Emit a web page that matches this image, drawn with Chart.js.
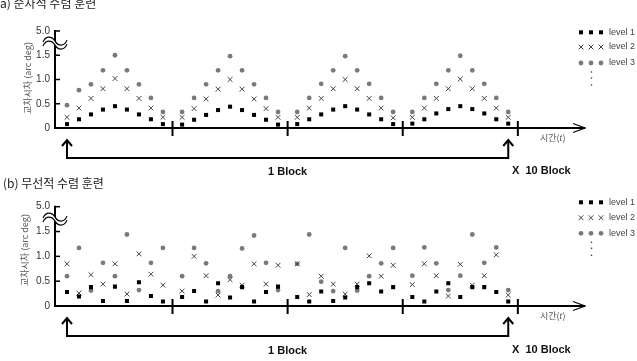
<!DOCTYPE html>
<html>
<head>
<meta charset="utf-8">
<script src="https://cdn.jsdelivr.net/npm/chart.js@4.4.1/dist/chart.umd.min.js"></script>
<style>
  html, body { margin: 0; padding: 0; background: #fff; }
  body { width: 637px; height: 361px; position: relative; overflow: hidden; }
  canvas { position: absolute; left: 0; }
  #chartA { top: 0; }
  #chartB { top: 170px; }
</style>
</head>
<body>
<canvas id="chartA" width="637" height="181"></canvas>
<canvas id="chartB" width="637" height="191"></canvas>
<script>
// y axis is broken: the top tick stands for 5.0
const yTickValues = [0, 0.5, 1.0, 1.5, 2.0];
const yTickLabels = ["0", "0.5", "1.0", "1.5", "5.0"];
const levelLabels = ["level 1", "level 2", "level 3"];
const trialsPerBlock = 9;

// (a) sequential training, 4 blocks of 9 trials
const seqLevel1 = [0.08, 0.18, 0.28, 0.38, 0.45, 0.38, 0.28, 0.18, 0.08,
                   0.07, 0.17, 0.27, 0.37, 0.44, 0.37, 0.27, 0.17, 0.07,
                   0.08, 0.18, 0.28, 0.38, 0.45, 0.38, 0.28, 0.18, 0.08,
                   0.09, 0.18, 0.30, 0.39, 0.45, 0.39, 0.30, 0.18, 0.09];
const seqLevel2 = [0.22, 0.41, 0.61, 0.81, 1.02, 0.81, 0.61, 0.41, 0.22,
                   0.22, 0.40, 0.60, 0.80, 1.00, 0.80, 0.60, 0.40, 0.22,
                   0.22, 0.41, 0.61, 0.81, 1.00, 0.81, 0.61, 0.41, 0.21,
                   0.22, 0.41, 0.61, 0.81, 1.01, 0.81, 0.61, 0.41, 0.22];
const seqLevel3 = [0.47, 0.78, 0.90, 1.19, 1.50, 1.19, 0.90, 0.62, 0.33,
                   0.33, 0.62, 0.90, 1.19, 1.48, 1.19, 0.90, 0.62, 0.33,
                   0.33, 0.62, 0.91, 1.19, 1.48, 1.19, 0.91, 0.62, 0.33,
                   0.33, 0.62, 0.91, 1.19, 1.49, 1.19, 0.91, 0.62, 0.33];

// (b) random training
const rndLevel1 = [0.28, 0.19, 0.38, 0.10, 0.39, 0.10, 0.48, 0.20, 0.09,
                   0.18, 0.30, 0.09, 0.46, 0.17, 0.38, 0.09, 0.28, 0.39,
                   0.18, 0.09, 0.29, 0.10, 0.17, 0.38, 0.46, 0.29, 0.38,
                   0.18, 0.09, 0.29, 0.46, 0.18, 0.38, 0.38, 0.28, 0.09];
const rndLevel2 = [0.85, 0.26, 0.63, 0.44, 0.85, 0.24, 1.05, 0.64, 0.42,
                   0.30, 1.00, 0.61, 0.22, 0.53, 0.42, 0.85, 0.44, 0.82,
                   0.85, 0.23, 0.60, 0.44, 0.24, 0.44, 1.01, 0.60, 0.82,
                   0.43, 0.85, 0.61, 0.20, 0.84, 0.42, 0.61, 1.03, 0.22];
const rndLevel3 = [0.60, 1.17, 0.31, 0.87, 0.60, 1.44, 0.32, 0.87, 1.17,
                   0.60, 1.17, 0.86, 0.30, 0.60, 1.16, 1.42, 0.87, 0.32,
                   0.85, 1.44, 0.49, 0.30, 1.17, 0.31, 0.60, 0.86, 1.17,
                   0.61, 1.18, 0.86, 0.32, 0.61, 1.44, 0.87, 1.18, 0.32];

// layout of the time axis (in trial units)
const BLOCK_STEP = 9.6;
const FIRST = 1;
const X_MAX = 44.2;

function trialX(k) {
  return FIRST + Math.floor(k / trialsPerBlock) * BLOCK_STEP + (k % trialsPerBlock);
}
function toPoints(values) {
  return values.map((v, k) => ({ x: trialX(k), y: v }));
}

const COL_SQ = '#000000', COL_X = '#444444', COL_CIR = '#7a7a7a';

function marker(ctx, kind, x, y) {
  ctx.save();
  if (kind === 0) {
    ctx.fillStyle = COL_SQ;
    ctx.fillRect(x - 2, y - 2, 4, 4);
  } else if (kind === 1) {
    ctx.strokeStyle = COL_X; ctx.lineWidth = 1;
    ctx.beginPath();
    ctx.moveTo(x - 2.4, y - 2.4); ctx.lineTo(x + 2.4, y + 2.4);
    ctx.moveTo(x + 2.4, y - 2.4); ctx.lineTo(x - 2.4, y + 2.4);
    ctx.stroke();
  } else {
    ctx.fillStyle = COL_CIR;
    ctx.beginPath(); ctx.arc(x, y, 2.4, 0, Math.PI * 2); ctx.fill();
  }
  ctx.restore();
}

const decor = {
  id: 'decor',
  afterDraw(chart, args, p) {
    const { ctx, chartArea: a, scales: { x, y } } = chart;
    const line = (x1, y1, x2, y2) => { ctx.beginPath(); ctx.moveTo(x1, y1); ctx.lineTo(x2, y2); ctx.stroke(); };
    ctx.save();

    // title
    ctx.fillStyle = '#222';
    ctx.font = '12px "Noto Sans CJK KR"';
    ctx.textBaseline = 'alphabetic';
    ctx.fillText(p.title, p.titleX, p.titleY);

    // y title
    ctx.save();
    ctx.translate(p.yTitleX, p.yTitleY);
    ctx.rotate(-Math.PI / 2);
    ctx.font = '9px "Noto Sans CJK KR"';
    ctx.fillStyle = '#555';
    ctx.textAlign = 'center'; ctx.textBaseline = 'middle';
    ctx.fillText('교차시차 (arc deg)', 0, 0);
    ctx.restore();

    // axes
    ctx.strokeStyle = '#000';
    ctx.lineWidth = 2;
    line(a.left, a.top - 1, a.left, a.bottom + 1);
    line(a.left - 1, a.bottom, a.right, a.bottom);
    ctx.lineWidth = 1.2;
    ctx.beginPath();
    ctx.moveTo(a.right - 12, a.bottom - 4.5); ctx.lineTo(a.right, a.bottom); ctx.lineTo(a.right - 12, a.bottom + 4.5);
    ctx.stroke();

    // inward y ticks
    ctx.lineWidth = 1.5;
    yTickValues.forEach(v => { const py = y.getPixelForValue(v); line(a.left, py, a.left + 5, py); });

    // block separators
    ctx.lineWidth = 2;
    for (let b = 0; b < 4; b++) {
      const px = x.getPixelForValue(FIRST + b * BLOCK_STEP + trialsPerBlock - 1 + 0.8);
      line(px, a.bottom - 7, px, a.bottom + 8);
    }

    // axis break
    const by = y.getPixelForValue(1.75), bx = a.left;
    const wave = (dy) => {
      ctx.moveTo(bx - 12, by + dy + 1);
      ctx.bezierCurveTo(bx - 9, by + dy - 6, bx - 3, by + dy - 5, bx, by + dy);
      ctx.bezierCurveTo(bx + 3, by + dy + 5, bx + 9, by + dy + 6, bx + 12, by + dy - 1);
    };
    ctx.fillStyle = '#fff';
    ctx.beginPath();
    ctx.moveTo(bx - 12, by - 1);
    ctx.bezierCurveTo(bx - 9, by - 8, bx - 3, by - 7, bx, by - 2);
    ctx.bezierCurveTo(bx + 3, by + 3, bx + 9, by + 4, bx + 12, by - 3);
    ctx.lineTo(bx + 12, by + 1);
    ctx.bezierCurveTo(bx + 9, by + 8, bx + 3, by + 7, bx, by + 2);
    ctx.bezierCurveTo(bx - 3, by - 3, bx - 9, by - 4, bx - 12, by + 3);
    ctx.closePath();
    ctx.fill();
    ctx.lineWidth = 1.2;
    ctx.beginPath(); wave(-2); ctx.stroke();
    ctx.beginPath(); wave(2); ctx.stroke();

    // time label
    ctx.fillStyle = '#555';
    ctx.font = '9px "Noto Sans CJK KR"';
    ctx.textBaseline = 'middle';
    let tx = 540;
    const ty = a.bottom + 10;
    ctx.fillText('시간(', tx, ty); tx += ctx.measureText('시간(').width;
    ctx.font = 'italic 9px "Liberation Sans"';
    ctx.fillText('t', tx, ty); tx += ctx.measureText('t').width + 0.5;
    ctx.font = '9px "Noto Sans CJK KR"';
    ctx.fillText(')', tx, ty);

    // bracket with arrows
    const x0 = x.getPixelForValue(trialX(0));
    const x1 = x.getPixelForValue(trialX(4 * trialsPerBlock - 1));
    const top = a.bottom + 12, ly = a.bottom + 30;
    ctx.lineWidth = 2;
    ctx.beginPath();
    ctx.moveTo(x0, top + 1); ctx.lineTo(x0, ly); ctx.lineTo(x1, ly); ctx.lineTo(x1, top + 1);
    ctx.stroke();
    [x0, x1].forEach(ax => {
      ctx.beginPath();
      ctx.moveTo(ax - 5, top + 6); ctx.lineTo(ax, top); ctx.lineTo(ax + 5, top + 6);
      ctx.stroke();
    });
    ctx.fillStyle = '#111';
    ctx.font = 'bold 11px "Liberation Sans"';
    ctx.textAlign = 'center';
    ctx.fillText('1 Block', (x0 + x1) / 2, a.bottom + p.blockDy);
    ctx.textAlign = 'left';
    ctx.fillText('X  10 Block', 512, a.bottom + p.blockDy - 1);

    // legend
    ctx.font = '9px "Liberation Sans"';
    ctx.fillStyle = '#444';
    levelLabels.forEach((lab, i) => {
      const ly2 = p.legendY[i];
      [581, 591, 601].forEach(mx => marker(ctx, i, mx, ly2));
      ctx.fillStyle = '#444';
      ctx.fillText(lab, 609, ly2);
    });
    ctx.fillStyle = '#333';
    [9, 15, 22].forEach(d => { ctx.beginPath(); ctx.arc(591.5, p.legendY[2] + d, 0.8, 0, Math.PI * 2); ctx.fill(); });

    ctx.restore();
  }
};

function makeChart(id, panel, l1, l2, l3) {
  return new Chart(document.getElementById(id), {
    type: 'scatter',
    data: {
      datasets: [
        { label: levelLabels[0], data: toPoints(l1), pointStyle: 'rect', pointRadius: 2.85,
          backgroundColor: COL_SQ, borderColor: COL_SQ, borderWidth: 0 },
        { label: levelLabels[1], data: toPoints(l2), pointStyle: 'crossRot', pointRadius: 3.4,
          borderColor: COL_X, backgroundColor: COL_X, borderWidth: 1 },
        { label: levelLabels[2], data: toPoints(l3), pointStyle: 'circle', pointRadius: 2.4,
          backgroundColor: COL_CIR, borderColor: COL_CIR, borderWidth: 0 }
      ]
    },
    options: {
      responsive: false,
      animation: false,
      events: [],
      layout: { padding: { top: panel.chartTop, right: 637 - 585, left: 0, bottom: 0 } },
      plugins: { legend: { display: false }, tooltip: { enabled: false }, decor: panel },
      scales: {
        x: {
          type: 'linear', min: 0, max: X_MAX,
          grid: { display: false }, border: { display: false },
          ticks: { display: false },
          afterFit: s => { s.height = panel.height - panel.chartBottom; }
        },
        y: {
          min: 0, max: 2,
          afterBuildTicks: s => { s.ticks = yTickValues.map(v => ({ value: v })); },
          ticks: {
            callback: (v, i) => yTickLabels[i],
            font: { family: 'Liberation Sans', size: 10 },
            color: '#333',
            padding: 5
          },
          grid: { display: false, drawTicks: false },
          border: { display: false },
          afterFit: s => { s.width = 55; }
        }
      }
    },
    plugins: [decor]
  });
}

makeChart('chartA', {
  height: 181, chartTop: 31, chartBottom: 128,
  title: '(a) 순차적 수렴 훈련', titleX: -4, titleY: 8,
  yTitleX: 27.5, yTitleY: 78,
  legendY: [32.3, 47, 63], blockDy: 44
}, seqLevel1, seqLevel2, seqLevel3);

makeChart('chartB', {
  height: 191, chartTop: 36.7, chartBottom: 136,
  title: '(b) 무선적 수렴 훈련', titleX: 3, titleY: 18,
  yTitleX: 24.5, yTitleY: 80,
  legendY: [32.3, 47.7, 63.3], blockDy: 45
}, rndLevel1, rndLevel2, rndLevel3);
</script>
</body>
</html>
